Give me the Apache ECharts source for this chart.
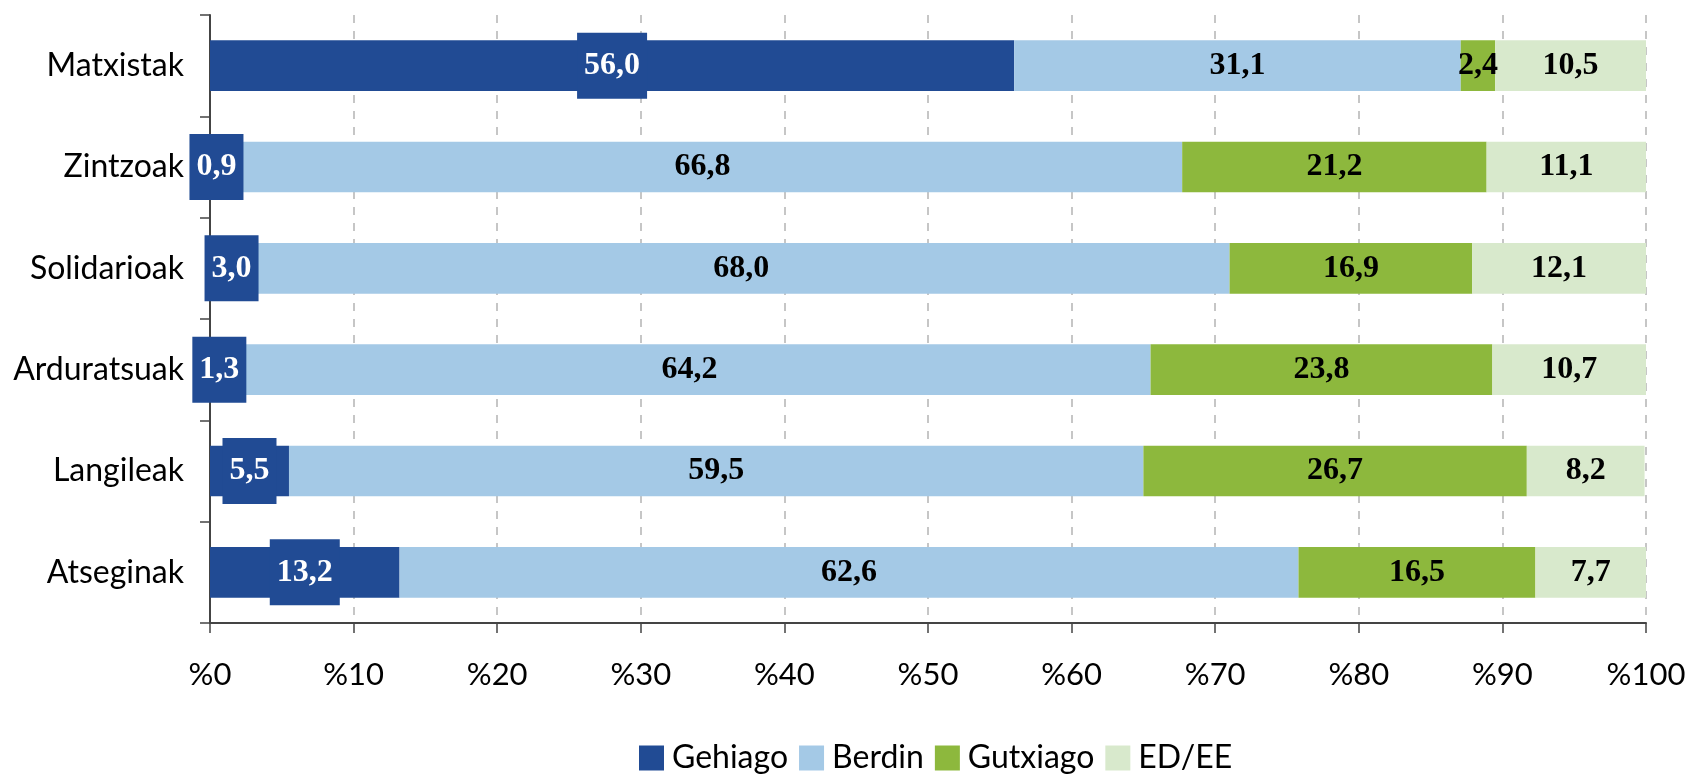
<!DOCTYPE html>
<html>
<head>
<meta charset="utf-8">
<script src="https://cdn.jsdelivr.net/npm/echarts@6/dist/echarts.min.js"></script>
<style>
  html, body { margin: 0; padding: 0; background: #fff; }
  #chart { width: 1692px; height: 774px; }
</style>
</head>
<body>
<div id="chart"></div>
<script>
const categories = ['Matxistak', 'Zintzoak', 'Solidarioak', 'Arduratsuak', 'Langileak', 'Atseginak'];
const gehiago = [56.0, 0.9, 3.0, 1.3, 5.5, 13.2];
const berdin = [31.1, 66.8, 68.0, 64.2, 59.5, 62.6];
const gutxiago = [2.4, 21.2, 16.9, 23.8, 26.7, 16.5];
const edee = [10.5, 11.1, 12.1, 10.7, 8.2, 7.7];

const sansFont = 'Lato';
const serifFont = 'Liberation Serif';

const fmt = v => v.toFixed(1).replace('.', ',');

const labelBase = {
  show: true,
  position: 'inside',
  fontFamily: serifFont,
  fontWeight: 'bold',
  fontSize: 32,
  color: '#000',
  formatter: p => fmt(p.value)
};

const makeSeries = (name, data, color, extraLabel) => ({
  name,
  type: 'bar',
  stack: 'total',
  barWidth: '50%',
  data,
  itemStyle: { color },
  label: Object.assign({}, labelBase, extraLabel || {})
});

const chart = echarts.init(document.getElementById('chart'));
chart.setOption({
  animation: false,
  backgroundColor: '#fff',
  grid: { left: 210, right: 46, top: 15, bottom: 151 },
  legend: {
    top: 740,
    left: 639,
    padding: 0,
    itemWidth: 25,
    itemHeight: 25,
    itemGap: 11,
    icon: 'rect',
    textStyle: { fontFamily: sansFont, fontSize: 32, lineHeight: 36, color: '#000', padding: [0, 0, 0, 3] },
    data: ['Gehiago', 'Berdin', 'Gutxiago', 'ED/EE']
  },
  xAxis: {
    type: 'value',
    min: 0,
    max: 100,
    interval: 10,
    axisLine: { show: true, lineStyle: { color: '#444', width: 2 } },
    axisTick: { show: true, length: 10, lineStyle: { color: '#444', width: 1.5 } },
    axisLabel: {
      margin: 36,
      fontFamily: sansFont,
      fontSize: 31,
      color: '#000',
      formatter: v => '%' + v
    },
    splitLine: { show: true, lineStyle: { color: '#b4b4b4', type: [8, 8], width: 1.5 } }
  },
  yAxis: {
    type: 'category',
    inverse: true,
    data: categories,
    axisLine: { show: true, lineStyle: { color: '#444', width: 2 } },
    axisTick: { show: true, length: 10, lineStyle: { color: '#444', width: 1.5 } },
    axisLabel: { margin: 26, fontFamily: sansFont, fontSize: 32, color: '#000' }
  },
  series: [
    makeSeries('Gehiago', gehiago, '#214b94', {
      color: '#fff',
      backgroundColor: '#214b94',
      padding: [17, 7],
      lineHeight: 32
    }),
    makeSeries('Berdin', berdin, '#a4c9e6'),
    makeSeries('Gutxiago', gutxiago, '#8db83d'),
    makeSeries('ED/EE', edee, '#d8e9cc')
  ]
});
</script>
</body>
</html>
